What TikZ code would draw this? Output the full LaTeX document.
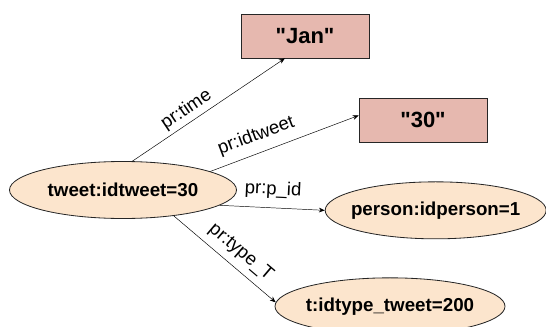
\documentclass[tikz,border=0pt]{standalone}
\usepackage{fontspec}
\setmainfont{Liberation Sans}[Ligatures=TeXOff]
\usetikzlibrary{shapes.geometric,arrows.meta}
\definecolor{peach}{RGB}{252,229,205}
\definecolor{rosy}{RGB}{230,184,175}
\begin{document}
\begin{tikzpicture}[
    >={Stealth[length=5pt,width=4pt]},
    thing/.style={ellipse,draw=black!85,fill=peach,line width=0.7pt,inner ysep=0pt,inner xsep=-0.25cm,
      minimum height=1.71cm,font=\fontsize{16}{19}\selectfont\bfseries},
    literal/.style={rectangle,draw=black!85,fill=rosy,line width=0.7pt,inner sep=0pt,
      minimum width=3.84cm,minimum height=1.32cm,font=\fontsize{18.8}{22}\selectfont\bfseries},
    prop/.style={font=\fontsize{15.8}{19}\selectfont,inner sep=2pt}
  ]
      \useasboundingbox (0,0) rectangle (16.38,9.78);
      \node[thing,minimum width=6.81cm] (tweet) at (3.69,4.08) {tweet:idtweet=30};
      \node[literal] (jan) at (9.15,8.70) {"Jan"};
      \node[literal] (thirty) at (12.69,6.18) {"30"};
      \node[thing,minimum width=6.63cm] (person) at (13.07,3.47) {person:idperson=1};
      \node[thing,minimum width=6.9cm] (ttype) at (11.7,0.59) {t:idtype\_tweet=200};
      \draw[thin,->] (tweet.72) -- (jan.228) node[prop,pos=0.4,above=1pt,sloped] {pr:time};
      \draw[thin,->] (tweet.12) -- (thirty.176) node[prop,pos=0.35,above=5pt,sloped] {pr:idtweet};
      \draw[thin,->] (tweet.-9) -- (person.west) node[prop,pos=0.5,above=6pt,sloped] {pr:p\_id};
      \draw[thin,->] (tweet.-27) -- (ttype.178) node[prop,pos=0.56,above=4pt,sloped] {pr:type\_T};
\end{tikzpicture}
\end{document}
